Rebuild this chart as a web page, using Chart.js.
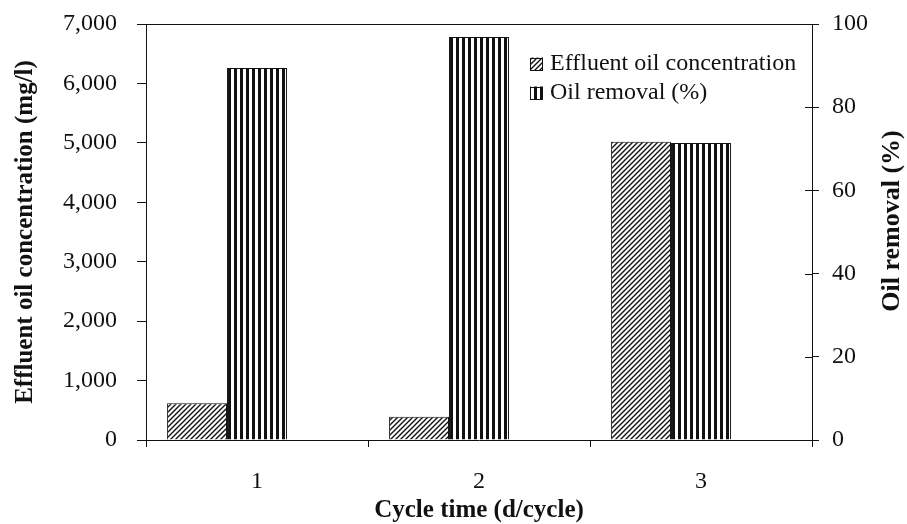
<!DOCTYPE html>
<html>
<head>
<meta charset="utf-8">
<script src="https://cdn.jsdelivr.net/npm/chart.js@4.4.0/dist/chart.umd.min.js"></script>
<style>
  html, body { margin: 0; padding: 0; background: #fff; }
  canvas { display: block; }
</style>
</head>
<body>
<canvas id="oilChart" width="907" height="524"></canvas>
<script>
(function () {

  /* data */
  const cycleLabels  = ["1", "2", "3"];
  const effluentConc = [620, 390, 5020];     // mg/l
  const oilRemoval   = [89.4, 96.9, 71.4];   // %

  const concAxis    = { min: 0, max: 7000, step: 1000 };
  const removalAxis = { min: 0, max: 100,  step: 20 };

  const serif = "'Liberation Serif', 'Times New Roman', serif";
  const ink = "#111";

  const canvas = document.getElementById("oilChart");
  const ctx = canvas.getContext("2d");

  /* fill patterns: "/" hatching and vertical stripes */
  function makeHatch() {
    const t = document.createElement("canvas");
    t.width = 5; t.height = 5;
    const g = t.getContext("2d");
    g.fillStyle = "#fff";
    g.fillRect(0, 0, 5, 5);
    g.strokeStyle = ink;
    g.lineWidth = 1.4;
    g.beginPath();
    g.moveTo(-1, 6); g.lineTo(6, -1);
    g.moveTo(-1, 1); g.lineTo(1, -1);
    g.moveTo(4, 6);  g.lineTo(6, 4);
    g.stroke();
    return ctx.createPattern(t, "repeat");
  }

  function makeStripes() {
    const t = document.createElement("canvas");
    t.width = 6; t.height = 1;
    const g = t.getContext("2d");
    g.fillStyle = "#fff";
    g.fillRect(0, 0, 6, 1);
    g.fillStyle = ink;
    g.fillRect(0, 0, 3, 1);
    return ctx.createPattern(t, "repeat");
  }

  const hatch = makeHatch();
  const stripes = makeStripes();

  // Chart.js reserves the tick padding twice when sizing an axis; give one back
  function trimVertical(scale) {
    scale.width -= scale.options.ticks.padding;
    scale.paddingTop = 0;
    scale.paddingBottom = 0;
  }
  function trimHorizontal(scale) {
    scale.height -= scale.options.ticks.padding;
  }

  /* top frame line, inner half of the right-axis ticks, right title, legend */
  const frameExtras = {
    id: "frameExtras",
    afterDraw(chart) {
      const c = chart.ctx;
      const a = chart.chartArea;
      const yR = chart.scales.yRemoval;

      c.save();
      c.strokeStyle = ink;
      c.lineWidth = 1;
      c.beginPath();
      const top = Math.round(a.top) + 0.5;
      c.moveTo(a.left, top);
      c.lineTo(a.right, top);
      yR.ticks.forEach(t => {
        const y = Math.round(yR.getPixelForValue(t.value)) + 0.5;
        c.moveTo(a.right - 7, y);
        c.lineTo(a.right, y);
      });
      c.stroke();

      // right axis title, reading bottom to top
      c.save();
      c.translate(chart.width - 15, (a.top + a.bottom) / 2 - 11);
      c.rotate(-Math.PI / 2);
      c.font = "bold 26px " + serif;
      c.textAlign = "center";
      c.textBaseline = "middle";
      c.fillStyle = ink;
      c.fillText("Oil removal (%)", 0, 0);
      c.restore();

      // legend
      const items = chart.data.datasets.filter(ds => ds.label);
      const boxX = a.right - 282;
      c.font = "24px " + serif;
      c.textBaseline = "middle";
      c.textAlign = "left";
      items.forEach((ds, i) => {
        const cy = a.top + 40 + i * 29;
        c.fillStyle = ds.backgroundColor;
        c.fillRect(boxX, cy - 6.5, 13, 13);
        c.strokeRect(boxX + 0.5, Math.round(cy - 6.5) + 0.5, 12, 12);
        c.fillStyle = ink;
        c.fillText(ds.label, boxX + 20, cy);
      });
      c.restore();
    }
  };

  new Chart(ctx, {
    type: "bar",
    data: {
      labels: cycleLabels,
      datasets: [
        {
          label: "Effluent oil concentration",
          data: effluentConc,
          yAxisID: "yConc",
          backgroundColor: hatch,
          borderColor: ink,
          borderWidth: 1
        },
        {
          label: "Oil removal (%)",
          data: oilRemoval,
          yAxisID: "yRemoval",
          backgroundColor: stripes,
          borderColor: ink,
          borderWidth: 1
        },
        {
          // empty third slot in every group
          label: "",
          data: [null, null, null],
          yAxisID: "yConc"
        }
      ]
    },
    options: {
      responsive: false,
      animation: false,
      categoryPercentage: 0.81,
      barPercentage: 1.0,
      layout: { padding: { top: 24, left: 0, right: 39, bottom: 0 } },
      plugins: {
        legend: { display: false },
        tooltip: { enabled: false }
      },
      scales: {
        x: {
          offset: true,
          afterFit: trimHorizontal,
          grid: { offset: true, drawOnChartArea: false, tickLength: 7, color: ink },
          border: { color: ink },
          ticks: {
            color: ink,
            padding: 23,
            font: { family: serif, size: 24, lineHeight: 1 }
          },
          title: {
            display: true,
            text: "Cycle time (d/cycle)",
            color: ink,
            font: { family: serif, size: 25, weight: "bold", lineHeight: 1 },
            padding: { top: 4, bottom: 1 }
          }
        },
        yConc: {
          position: "left",
          min: concAxis.min,
          max: concAxis.max,
          afterFit: trimVertical,
          grid: { drawOnChartArea: false, tickLength: 9, color: ink },
          border: { color: ink },
          ticks: {
            stepSize: concAxis.step,
            color: ink,
            padding: 20,
            font: { family: serif, size: 24 },
            callback: v => v.toLocaleString("en-US")
          },
          title: {
            display: true,
            text: "Effluent oil concentration (mg/l)",
            color: ink,
            font: { family: serif, size: 25, weight: "bold", lineHeight: 1 },
            padding: { top: 13, bottom: 25 }
          }
        },
        yRemoval: {
          position: "right",
          min: removalAxis.min,
          max: removalAxis.max,
          afterFit: trimVertical,
          grid: { drawOnChartArea: false, tickLength: 7, color: ink },
          border: { color: ink },
          ticks: {
            stepSize: removalAxis.step,
            color: ink,
            padding: 13,
            font: { family: serif, size: 24 }
          }
        }
      }
    },
    plugins: [frameExtras]
  });

})();
</script>
</body>
</html>
